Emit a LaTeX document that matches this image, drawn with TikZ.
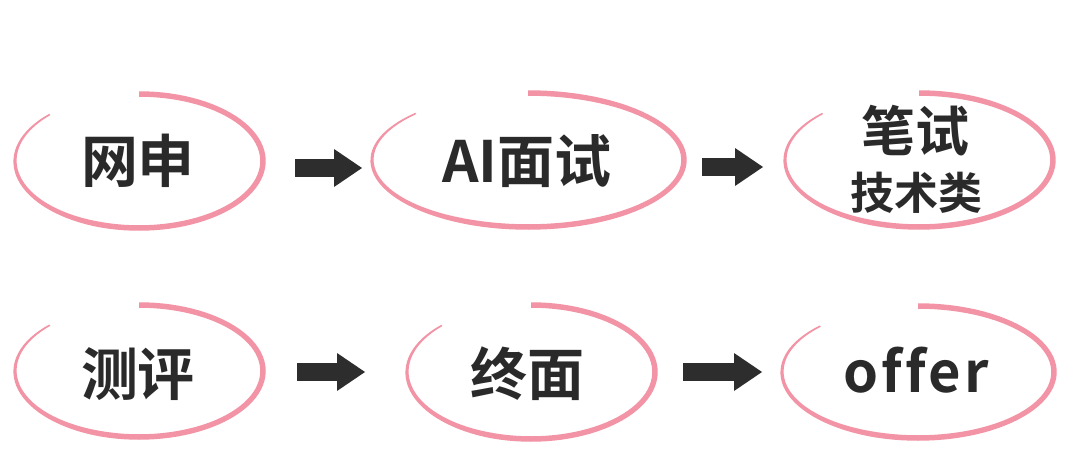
\documentclass[tikz,border=0pt]{standalone}
\usepackage{fontspec}
\newfontfamily\cjkb{Noto Sans CJK SC Bold}
\usetikzlibrary{arrows.meta}
\definecolor{ringc}{HTML}{F294A5}
\definecolor{inkc}{HTML}{2A2A2A}
\definecolor{arrowc}{HTML}{2D2D2D}
\tikzset{
  declare function={ww(\t)=5.5-3.8*max(0,(\t-110)/114);},
  lbl/.style={inner sep=0pt, text=inkc, font=\cjkb\fontsize{57}{60}\selectfont},
  blockarrow/.style={draw=arrowc, line width=18pt, -{Triangle[length=28pt,width=38pt,line width=0pt]}},
}
\newcommand{\handring}[4]{%
  \fill[ringc] plot[domain=-90:224,samples=90] ({#1+(#3+0.5*ww(\x))*cos(\x)},{#2+(#4+0.5*ww(\x))*sin(\x)})
    -- plot[domain=224:-90,samples=90] ({#1+(#3-0.5*ww(\x))*cos(\x)},{#2+(#4-0.5*ww(\x))*sin(\x)}) -- cycle;}
\begin{document}
\begin{tikzpicture}[x=1pt,y=-1pt]
\useasboundingbox[fill=white] (0,0) rectangle (1080,455);
% rings
\handring{139}{161}{124}{67}
\handring{528}{160}{156}{67}
\handring{919}{160}{134}{67}
\handring{139}{371}{124}{66}
\handring{531}{372}{124}{67}
\handring{918}{372}{136}{66}
% labels
\node[lbl] (t1) at (138,161) {网申};
\node[lbl] (t2) at (527,161) {AI面试};
\node[lbl, font=\cjkb\fontsize{54}{56}\selectfont] (t3a) at (915,131) {笔试};
\node[lbl, font=\cjkb\fontsize{44}{46}\selectfont] (t3b) at (916,193) {技术类};
\node[lbl] (t4) at (138,374) {测评};
\node[lbl] (t5) at (527,374) {终面};
\node[lbl, anchor=base, font=\cjkb\fontsize{56}{58}\selectfont] (t6) at (916,392) {o\kern3pt f\kern3pt f\kern3pt e\kern3pt r};
% arrows
\coordinate (a1s) at (295,168); \coordinate (a1e) at (362,168);
\coordinate (a2s) at (702,167); \coordinate (a2e) at (763,167);
\coordinate (a3s) at (297,372); \coordinate (a3e) at (365,372);
\coordinate (a4s) at (683,372); \coordinate (a4e) at (762,372);
\draw[blockarrow] (a1s) -- (a1e);
\draw[blockarrow] (a2s) -- (a2e);
\draw[blockarrow] (a3s) -- (a3e);
\draw[blockarrow] (a4s) -- (a4e);
\end{tikzpicture}
\end{document}
